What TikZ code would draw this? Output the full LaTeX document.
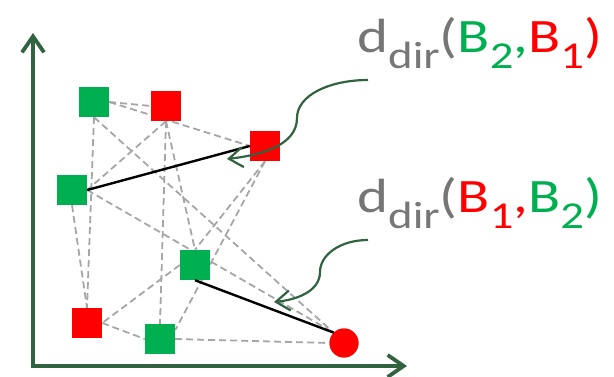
\documentclass[tikz,border=0pt]{standalone}
\usepackage{fontspec}
\setmainfont{Carlito}
\usetikzlibrary{arrows.meta}
\definecolor{axisgreen}{RGB}{49,99,64}
\definecolor{boxgreen}{RGB}{0,176,80}
\definecolor{boxred}{RGB}{255,0,0}
\definecolor{edgegray}{RGB}{166,166,166}
\definecolor{labelgray}{RGB}{118,118,118}
% pieces of the distance labels
\newcommand\lowsub[1]{\raisebox{-16pt}{\fontsize{38}{42}\selectfont #1}}
\newcommand\blockname[1]{B\lowsub{#1}}
\newcommand\distlabel[2]{\scalebox{1.23}[1]{\fontsize{48}{54}\selectfont d\lowsub{dir}(#1,#2)}}

\begin{document}
\begin{tikzpicture}[x=1pt,y=-1pt,
  gbox/.style={fill=boxgreen,minimum size=30pt,inner sep=0pt,draw=none},
  rbox/.style={fill=boxred,minimum size=30pt,inner sep=0pt,draw=none},
  rdot/.style={circle,fill=boxred,minimum size=29pt,inner sep=0pt,draw=none},
  link/.style={draw=edgegray,line width=1.8pt,dash pattern=on 7pt off 4pt},
  solidlink/.style={draw=black,line width=2.4pt},
  axisline/.style={draw=axisgreen,line width=3.8pt,
    {Straight Barb[length=16pt,width=22pt]}-{Straight Barb[length=16pt,width=22pt]}},
  pointer/.style={draw=axisgreen,line width=2.2pt,
    -{Straight Barb[length=14pt,width=20pt]}},
  lbl/.style={inner sep=0pt,anchor=base west,text=labelgray}]
\useasboundingbox (0,0) rectangle (614,377);

% axes
\coordinate (ytop) at (33,33);
\coordinate (origin) at (33,366);
\coordinate (xend) at (407,366);
\draw[axisline] (ytop) -- (origin) -- (xend);

% points
\node[gbox] (G1) at (94,102) {};
\node[rbox] (R1) at (166,106) {};
\node[rbox] (R2) at (265,146) {};
\node[gbox] (G2) at (72,190) {};
\node[gbox] (G3) at (195,265) {};
\node[rbox] (R3) at (87,323) {};
\node[gbox] (G4) at (160,339) {};
\node[rdot] (C) at (344,343) {};

% dashed pairwise links
\draw[link] (G1.east) -- (R1.west);
\draw[link] (G1.east) -- (R2.west);
\draw[link] (G1.south) -- (R3.north);
\draw[link] (G1.south) -- (C.north west);
\draw[link] (R1.south) -- (G2.east);
\draw[link] (R1.south) -- (G3.north);
\draw[link] (R1.south) -- (G4.north);
\draw[link] (R2.south) -- (G3.north);
\draw[link] (R2.south) -- (G4.30);
\draw[link] (G2.south) -- (R3.north);
\draw[link] (G2.east) -- (C.north west);
\draw[link] (G3.west) -- (R3.east);
\draw[link] (R3.east) -- (G4.west);
\draw[link] (G4.east) -- (C.west);

% redraw the points above the links
\node[gbox] at (G1) {};
\node[rbox] at (R1) {};
\node[rbox] at (R2) {};
\node[gbox] at (G2) {};
\node[gbox] at (G3) {};
\node[rbox] at (R3) {};
\node[gbox] at (G4) {};
\node[rdot] at (C) {};

% directed distances
\draw[solidlink] (G2.east) -- (R2.west);
\draw[solidlink] (G3.south) -- (C.north west);

% labels
\node[lbl] (L1) at (357,53) {\distlabel{\color{boxgreen}\blockname{2}}{\color{boxred}\blockname{1}}};
\node[lbl] (L2) at (357,213) {\distlabel{\color{boxred}\blockname{1}}{\color{boxgreen}\blockname{2}}};

% pointers from the labels
\coordinate (p1) at (368,80);
\coordinate (t1) at (227,159);
\coordinate (p2) at (368,240);
\coordinate (t2) at (274,302);
\draw[pointer] (p1) .. controls (330,80) and (297,95) .. (297,118)
  .. controls (297,145) and (262,155) .. (t1);
\draw[pointer] (p2) .. controls (340,240) and (320,255) .. (320,272)
  .. controls (320,292) and (295,300) .. (t2);
\end{tikzpicture}
\end{document}
